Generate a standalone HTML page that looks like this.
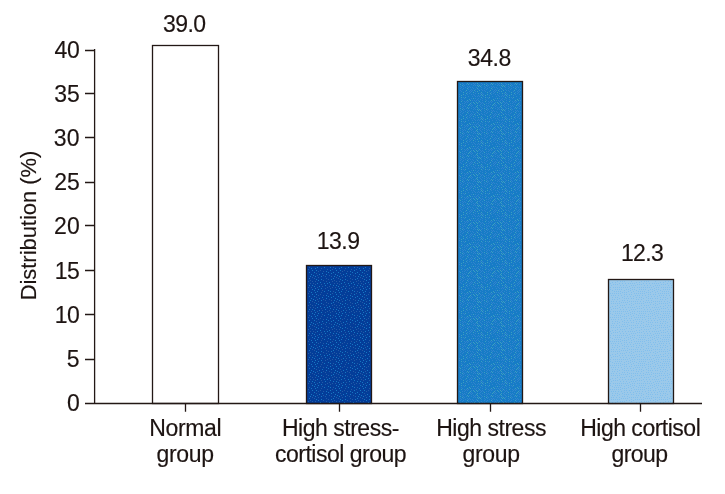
<!DOCTYPE html>
<html><head><meta charset="utf-8"><title>Distribution chart</title>
<style>
html,body{margin:0;padding:0;background:#fff;}
svg{display:block;}
text{font-family:"Liberation Sans",Arial,Helvetica,sans-serif;font-size:23px;fill:#1d1412;stroke:#1d1412;stroke-width:0.15px;}
</style></head><body>
<svg width="725" height="494" viewBox="0 0 725 494">
<rect width="725" height="494" fill="#fff"/>
<defs>
<pattern id="p2" width="24" height="24" patternUnits="userSpaceOnUse" shape-rendering="crispEdges"><rect width="24" height="24" fill="#033d99"/><path fill="#245ba5" d="M13 0h1v1h-1zM18 0h1v1h-1zM10 2h1v1h-1zM21 3h1v1h-1zM9 4h1v1h-1zM15 5h1v1h-1zM20 5h1v1h-1zM8 6h1v1h-1zM6 7h1v1h-1zM11 7h1v1h-1zM4 9h1v1h-1zM5 11h1v1h-1zM11 11h1v1h-1zM17 11h1v1h-1zM13 12h1v1h-1zM19 12h1v1h-1zM0 13h1v1h-1zM6 13h1v1h-1zM2 14h1v1h-1zM14 14h1v1h-1zM16 15h1v1h-1zM11 16h1v1h-1zM22 16h1v1h-1zM0 17h1v1h-1zM3 17h1v1h-1zM14 17h1v1h-1zM20 17h1v1h-1zM1 19h1v1h-1zM22 19h1v1h-1zM3 20h1v1h-1zM9 20h1v1h-1zM10 22h1v1h-1zM17 22h1v1h-1zM5 23h1v1h-1zM15 23h1v1h-1zM20 23h1v1h-1zM23 23h1v1h-1z"/><path fill="#1777c2" d="M3 0h1v1h-1zM9 0h1v1h-1zM0 1h1v1h-1zM6 1h1v1h-1zM2 2h1v1h-1zM16 2h1v1h-1zM5 3h1v1h-1zM12 3h1v1h-1zM18 3h1v1h-1zM3 4h1v1h-1zM23 4h1v1h-1zM0 6h1v1h-1zM4 6h1v1h-1zM18 6h1v1h-1zM14 7h1v1h-1zM2 8h1v1h-1zM16 8h1v1h-1zM21 8h1v1h-1zM10 9h1v1h-1zM19 9h1v1h-1zM7 10h1v1h-1zM14 10h1v1h-1zM23 10h1v1h-1zM1 11h1v1h-1zM3 12h1v1h-1zM9 12h1v1h-1zM22 12h1v1h-1zM21 14h1v1h-1zM4 15h1v1h-1zM9 15h1v1h-1zM19 15h1v1h-1zM6 16h1v1h-1zM8 18h1v1h-1zM17 18h1v1h-1zM5 19h1v1h-1zM12 19h1v1h-1zM15 19h1v1h-1zM18 20h1v1h-1zM0 21h1v1h-1zM13 21h1v1h-1zM21 21h1v1h-1zM2 22h1v1h-1zM7 22h1v1h-1z"/></pattern>
<pattern id="p3" width="24" height="24" patternUnits="userSpaceOnUse" shape-rendering="crispEdges"><rect width="24" height="24" fill="#167cc6"/><path fill="#3183ce" d="M3 0h1v1h-1zM12 0h1v1h-1zM16 0h1v1h-1zM19 0h1v1h-1zM21 0h1v1h-1zM23 0h1v1h-1zM7 1h1v1h-1zM2 2h1v1h-1zM8 2h1v1h-1zM15 2h1v1h-1zM19 2h1v1h-1zM22 2h1v1h-1zM0 3h1v1h-1zM5 3h1v1h-1zM21 3h1v1h-1zM2 4h1v1h-1zM6 4h1v1h-1zM16 4h1v1h-1zM18 4h1v1h-1zM20 4h1v1h-1zM22 4h1v1h-1zM8 5h1v1h-1zM10 5h1v1h-1zM12 5h1v1h-1zM19 5h1v1h-1zM0 6h1v1h-1zM2 6h1v1h-1zM9 6h1v1h-1zM11 6h1v1h-1zM15 6h1v1h-1zM22 6h1v1h-1zM1 7h1v1h-1zM3 7h1v1h-1zM6 7h1v1h-1zM8 7h1v1h-1zM0 8h1v1h-1zM10 8h1v1h-1zM15 8h1v1h-1zM19 8h1v1h-1zM2 9h1v1h-1zM6 9h1v1h-1zM8 9h1v1h-1zM14 9h1v1h-1zM16 9h1v1h-1zM23 9h1v1h-1zM0 10h1v1h-1zM4 10h1v1h-1zM7 10h1v1h-1zM9 10h1v1h-1zM15 10h1v1h-1zM1 11h1v1h-1zM6 11h1v1h-1zM13 11h1v1h-1zM17 11h1v1h-1zM19 11h1v1h-1zM2 12h1v1h-1zM7 12h1v1h-1zM10 12h1v1h-1zM15 12h1v1h-1zM18 12h1v1h-1zM22 12h1v1h-1zM1 13h1v1h-1zM8 13h1v1h-1zM17 13h1v1h-1zM19 13h1v1h-1zM4 14h1v1h-1zM7 14h1v1h-1zM11 14h1v1h-1zM13 14h1v1h-1zM1 15h1v1h-1zM5 15h1v1h-1zM9 15h1v1h-1zM12 15h1v1h-1zM14 15h1v1h-1zM16 15h1v1h-1zM20 15h1v1h-1zM4 16h1v1h-1zM7 16h1v1h-1zM17 16h1v1h-1zM1 17h1v1h-1zM6 17h1v1h-1zM12 17h1v1h-1zM15 17h1v1h-1zM19 17h1v1h-1zM22 17h1v1h-1zM2 18h1v1h-1zM4 18h1v1h-1zM14 18h1v1h-1zM16 18h1v1h-1zM5 19h1v1h-1zM9 19h1v1h-1zM13 19h1v1h-1zM15 19h1v1h-1zM19 19h1v1h-1zM11 20h1v1h-1zM14 20h1v1h-1zM0 21h1v1h-1zM2 21h1v1h-1zM13 21h1v1h-1zM19 21h1v1h-1zM3 22h1v1h-1zM11 22h1v1h-1zM15 22h1v1h-1zM17 22h1v1h-1zM0 23h1v1h-1zM9 23h1v1h-1zM18 23h1v1h-1zM22 23h1v1h-1z"/><path fill="#3e9ec0" d="M1 1h1v1h-1zM5 1h1v1h-1zM9 1h1v1h-1zM17 2h1v1h-1zM13 3h1v1h-1zM11 4h1v1h-1zM14 4h1v1h-1zM5 5h1v1h-1zM23 5h1v1h-1zM17 6h1v1h-1zM20 6h1v1h-1zM14 7h1v1h-1zM18 7h1v1h-1zM21 7h1v1h-1zM4 8h1v1h-1zM13 8h1v1h-1zM12 9h1v1h-1zM21 9h1v1h-1zM20 10h1v1h-1zM11 11h1v1h-1zM21 11h1v1h-1zM4 12h1v1h-1zM12 12h1v1h-1zM6 13h1v1h-1zM21 13h1v1h-1zM23 13h1v1h-1zM0 14h1v1h-1zM22 14h1v1h-1zM11 16h1v1h-1zM21 16h1v1h-1zM10 18h1v1h-1zM18 18h1v1h-1zM23 18h1v1h-1zM21 19h1v1h-1zM1 20h1v1h-1zM7 20h1v1h-1zM17 20h1v1h-1zM10 21h1v1h-1zM22 21h1v1h-1zM1 22h1v1h-1zM7 22h1v1h-1zM2 23h1v1h-1zM5 23h1v1h-1z"/></pattern>
<pattern id="p4" width="24" height="24" patternUnits="userSpaceOnUse" shape-rendering="crispEdges"><rect width="24" height="24" fill="#9bc9ea"/><path fill="#82bfed" d="M6 0h1v1h-1zM2 1h1v1h-1zM4 1h1v1h-1zM8 1h1v1h-1zM10 1h1v1h-1zM15 1h1v1h-1zM17 1h1v1h-1zM19 1h1v1h-1zM21 1h1v1h-1zM0 2h1v1h-1zM6 2h1v1h-1zM12 2h1v1h-1zM4 3h1v1h-1zM9 3h1v1h-1zM14 3h1v1h-1zM16 3h1v1h-1zM18 3h1v1h-1zM20 3h1v1h-1zM0 4h1v1h-1zM2 4h1v1h-1zM7 4h1v1h-1zM22 4h1v1h-1zM10 5h1v1h-1zM12 5h1v1h-1zM14 5h1v1h-1zM16 5h1v1h-1zM18 5h1v1h-1zM20 5h1v1h-1zM0 6h1v1h-1zM2 6h1v1h-1zM5 6h1v1h-1zM7 6h1v1h-1zM11 7h1v1h-1zM13 7h1v1h-1zM15 7h1v1h-1zM18 7h1v1h-1zM21 7h1v1h-1zM0 8h1v1h-1zM3 8h1v1h-1zM6 8h1v1h-1zM9 8h1v1h-1zM12 9h1v1h-1zM15 9h1v1h-1zM17 9h1v1h-1zM22 9h1v1h-1zM0 10h1v1h-1zM2 10h1v1h-1zM4 10h1v1h-1zM7 10h1v1h-1zM9 10h1v1h-1zM19 10h1v1h-1zM12 11h1v1h-1zM14 11h1v1h-1zM17 11h1v1h-1zM0 12h1v1h-1zM3 12h1v1h-1zM22 12h1v1h-1zM5 13h1v1h-1zM7 13h1v1h-1zM9 13h1v1h-1zM11 13h1v1h-1zM13 13h1v1h-1zM16 13h1v1h-1zM19 13h1v1h-1zM1 14h1v1h-1zM3 14h1v1h-1zM21 14h1v1h-1zM23 14h1v1h-1zM7 15h1v1h-1zM11 15h1v1h-1zM13 15h1v1h-1zM15 15h1v1h-1zM17 15h1v1h-1zM19 15h1v1h-1zM2 16h1v1h-1zM5 16h1v1h-1zM9 16h1v1h-1zM0 17h1v1h-1zM7 17h1v1h-1zM17 17h1v1h-1zM20 17h1v1h-1zM22 17h1v1h-1zM12 18h1v1h-1zM15 18h1v1h-1zM1 19h1v1h-1zM4 19h1v1h-1zM6 19h1v1h-1zM8 19h1v1h-1zM10 19h1v1h-1zM19 19h1v1h-1zM22 19h1v1h-1zM13 20h1v1h-1zM15 20h1v1h-1zM17 20h1v1h-1zM2 21h1v1h-1zM7 21h1v1h-1zM9 21h1v1h-1zM11 21h1v1h-1zM20 21h1v1h-1zM23 21h1v1h-1zM5 22h1v1h-1zM1 23h1v1h-1zM3 23h1v1h-1zM8 23h1v1h-1zM10 23h1v1h-1zM13 23h1v1h-1zM15 23h1v1h-1zM17 23h1v1h-1zM19 23h1v1h-1zM21 23h1v1h-1zM23 23h1v1h-1z"/></pattern>
</defs>
<rect x="152.5" y="45.5" width="66" height="358" fill="#fff" stroke="#231815" stroke-width="1.3"/>
<rect x="306.5" y="265.5" width="65" height="138" fill="#033d99" stroke="#231815" stroke-width="1.3"/>
<rect x="308" y="267" width="62" height="136" fill="url(#p2)"/>
<rect x="457.5" y="81.5" width="65" height="322" fill="#167cc6" stroke="#231815" stroke-width="1.3"/>
<rect x="459" y="83" width="62" height="320" fill="url(#p3)"/>
<rect x="608.5" y="279.5" width="65" height="124" fill="#9bc9ea" stroke="#231815" stroke-width="1.3"/>
<rect x="610" y="281" width="62" height="122" fill="url(#p4)"/>
<g stroke="#231815" stroke-width="1.3" fill="none">
<path d="M94.6 49 V403.5"/>
<path d="M85 403.5 H702"/>
<path d="M85 50.5 H94.6 M85 93.5 H94.6 M85 137.5 H94.6 M85 182.5 H94.6 M85 225.5 H94.6 M85 270.5 H94.6 M85 314.5 H94.6 M85 359.5 H94.6"/>
<path d="M185.5 403.5 V411.7 M339.5 403.5 V411.7 M490.5 403.5 V411.7 M640.5 403.5 V411.7"/>
</g>
<text x="66.91" y="58.00" letter-spacing="-0.364" text-anchor="middle">40</text>
<text x="67.06" y="102.00" letter-spacing="-0.031" text-anchor="middle">35</text>
<text x="66.78" y="146.00" letter-spacing="0.158" text-anchor="middle">30</text>
<text x="66.95" y="190.00" letter-spacing="-0.049" text-anchor="middle">25</text>
<text x="67.01" y="234.00" letter-spacing="0.131" text-anchor="middle">20</text>
<text x="66.96" y="278.50" letter-spacing="-0.490" text-anchor="middle">15</text>
<text x="66.98" y="323.00" letter-spacing="-0.454" text-anchor="middle">10</text>
<text x="79.66" y="367.00" letter-spacing="0.000" text-anchor="end">5</text>
<text x="79.70" y="411.00" letter-spacing="0.000" text-anchor="end">0</text>
<text x="184.27" y="31.70" letter-spacing="-0.508" text-anchor="middle">39.0</text>
<text x="338.11" y="248.50" letter-spacing="-0.502" text-anchor="middle">13.9</text>
<text x="489.34" y="66.00" letter-spacing="-0.415" text-anchor="middle">34.8</text>
<text x="642.14" y="261.30" letter-spacing="-0.592" text-anchor="middle">12.3</text>
<text x="185.26" y="436.00" letter-spacing="-0.317" text-anchor="middle">Normal</text>
<text x="185.14" y="461.90" letter-spacing="-0.301" text-anchor="middle">group</text>
<text x="340.42" y="436.00" letter-spacing="-0.479" text-anchor="middle">High stress-</text>
<text x="340.57" y="461.90" letter-spacing="-0.500" text-anchor="middle">cortisol group</text>
<text x="491.05" y="436.00" letter-spacing="-0.481" text-anchor="middle">High stress</text>
<text x="491.13" y="461.90" letter-spacing="-0.315" text-anchor="middle">group</text>
<text x="640.22" y="436.00" letter-spacing="-0.495" text-anchor="middle">High cortisol</text>
<text x="639.54" y="461.90" letter-spacing="-0.571" text-anchor="middle">group</text>
<text transform="translate(35.80,225.52) rotate(-90)" style="font-size:22px" letter-spacing="-0.045" text-anchor="middle">Distribution (%)</text>
</svg>
</body></html>
